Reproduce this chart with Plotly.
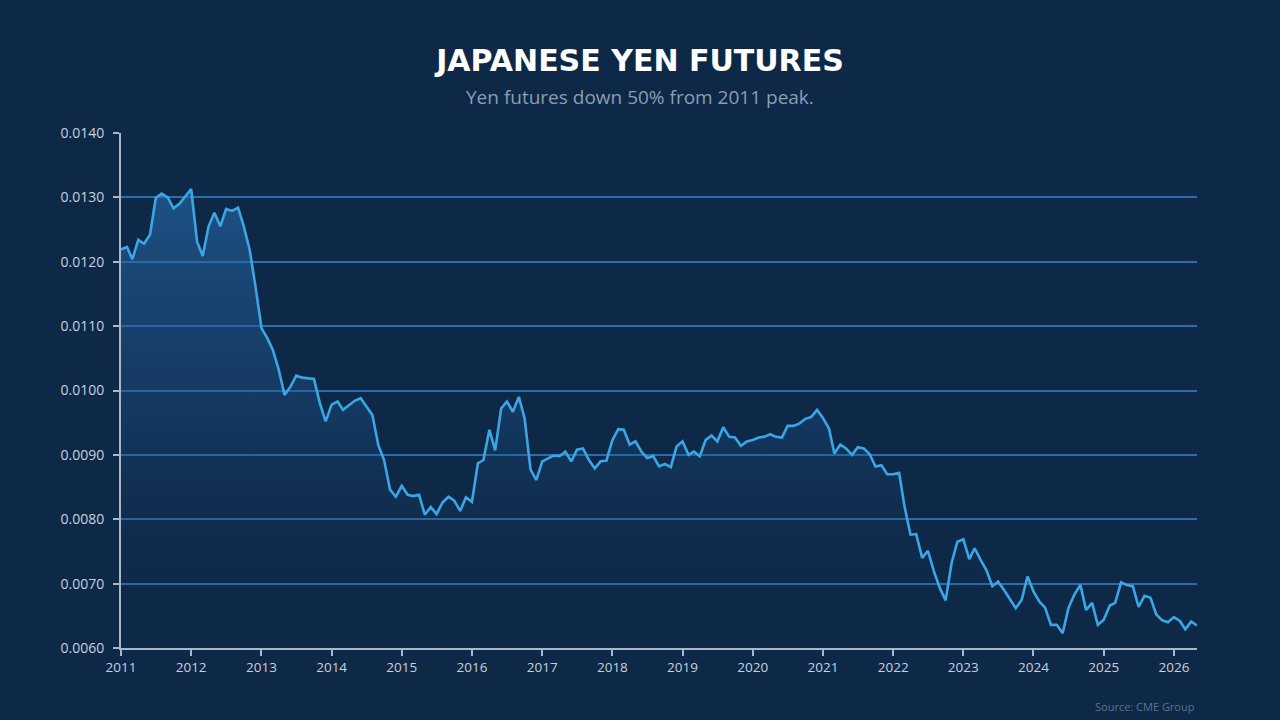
import pandas as pd
import plotly.graph_objects as go

# ── Colours ──────────────────────────────────────────────────
COLORS = {
    "bg":      "#0e2847",
    "line":    "#3ba6e6",
    "grid":    "#2b6eab",
    "axis":    "#a9b6c6",
    "tick":    "#c9d1dc",
    "title":   "#ffffff",
    "sub":     "#8c9db3",
    "source":  "#5d7290",
}

# ── Data: monthly settle, JPY futures (USD per yen) ──────────
yen_2011 = [0.01219, 0.01223, 0.01204, 0.01234, 0.01228, 0.01242,
            0.01299, 0.01306, 0.01300, 0.01283, 0.01290, 0.01301]
yen_2012 = [0.01313, 0.01231, 0.01209, 0.01255, 0.01276, 0.01255,
            0.01282, 0.01279, 0.01284, 0.01255, 0.01218, 0.01161]
yen_2013 = [0.01097, 0.01081, 0.01063, 0.01032, 0.00993, 0.01006,
            0.01023, 0.01020, 0.01019, 0.01018, 0.00980, 0.00952]
yen_2014 = [0.00978, 0.00983, 0.00970, 0.00977, 0.00984, 0.00988,
            0.00975, 0.00962, 0.00915, 0.00892, 0.00846, 0.00835]
yen_2015 = [0.00852, 0.00838, 0.00836, 0.00838, 0.00807, 0.00819,
            0.00808, 0.00826, 0.00835, 0.00829, 0.00813, 0.00834]
yen_2016 = [0.00827, 0.00887, 0.00892, 0.00939, 0.00907, 0.00972,
            0.00983, 0.00967, 0.00990, 0.00957, 0.00877, 0.00861]
yen_2017 = [0.00890, 0.00895, 0.00899, 0.00898, 0.00905, 0.00890,
            0.00908, 0.00910, 0.00892, 0.00879, 0.00890, 0.00891]
yen_2018 = [0.00923, 0.00940, 0.00939, 0.00916, 0.00921, 0.00905,
            0.00895, 0.00898, 0.00882, 0.00886, 0.00881, 0.00913]
yen_2019 = [0.00921, 0.00900, 0.00905, 0.00898, 0.00923, 0.00930,
            0.00921, 0.00943, 0.00928, 0.00927, 0.00914, 0.00921]
yen_2020 = [0.00923, 0.00927, 0.00928, 0.00932, 0.00928, 0.00927,
            0.00945, 0.00945, 0.00949, 0.00956, 0.00959, 0.00970]
yen_2021 = [0.00957, 0.00941, 0.00902, 0.00916, 0.00910, 0.00900,
            0.00912, 0.00910, 0.00901, 0.00882, 0.00884, 0.00870]
yen_2022 = [0.00870, 0.00872, 0.00820, 0.00776, 0.00777, 0.00740,
            0.00751, 0.00719, 0.00693, 0.00674, 0.00732, 0.00765]
yen_2023 = [0.00769, 0.00738, 0.00755, 0.00737, 0.00721, 0.00696,
            0.00703, 0.00690, 0.00675, 0.00662, 0.00675, 0.00711]
yen_2024 = [0.00688, 0.00672, 0.00663, 0.00636, 0.00636, 0.00623,
            0.00662, 0.00683, 0.00698, 0.00659, 0.00670, 0.00636]
yen_2025 = [0.00644, 0.00666, 0.00670, 0.00702, 0.00698, 0.00696,
            0.00664, 0.00681, 0.00678, 0.00652, 0.00643, 0.00640]
yen_2026 = [0.00648, 0.00642, 0.00629, 0.00641, 0.00635]

values = (yen_2011 + yen_2012 + yen_2013 + yen_2014 + yen_2015 + yen_2016
          + yen_2017 + yen_2018 + yen_2019 + yen_2020 + yen_2021 + yen_2022
          + yen_2023 + yen_2024 + yen_2025 + yen_2026)
dates = pd.date_range("2011-01-01", periods=len(values), freq="MS")

y_ticks = [0.0060, 0.0070, 0.0080, 0.0090, 0.0100, 0.0110, 0.0120, 0.0130, 0.0140]

FONT = "Open Sans, sans-serif"
TITLE_FONT = "DejaVu Sans, sans-serif"

fig = go.Figure()

fig.add_trace(go.Scatter(
    x=dates,
    y=values,
    mode="lines",
    line=dict(color=COLORS["line"], width=2.6),
    fill="tozeroy",
    fillgradient=dict(
        type="vertical",
        start=0.0060,
        stop=0.0132,
        colorscale=[
            [0.0, "rgba(14,40,71,0)"],
            [0.5, "rgba(30,85,140,0.35)"],
            [1.0, "rgba(40,110,175,0.6)"],
        ],
    ),
    hoverinfo="x+y",
    showlegend=False,
))

fig.update_layout(
    width=1280,
    height=720,
    paper_bgcolor=COLORS["bg"],
    plot_bgcolor=COLORS["bg"],
    font=dict(family=FONT, color=COLORS["tick"]),
    margin=dict(l=121, r=83, t=133, b=72),
    title=dict(
        text="<b>JAPANESE YEN FUTURES</b>",
        x=0.5, xref="container", xanchor="center",
        y=1 - 60 / 720, yref="container", yanchor="middle",
        font=dict(size=30, color=COLORS["title"], family=TITLE_FONT),
    ),
    annotations=[
        dict(
            text="Yen futures down 50% from 2011 peak.",
            x=(640 - 121) / 1076, y=1 + 36 / 515,
            xref="paper", yref="paper",
            xanchor="center", yanchor="middle",
            showarrow=False,
            font=dict(size=19, color=COLORS["sub"]),
        ),
        dict(
            text="Source: CME Group",
            x=1, y=1 - (706 - 133) / 515,
            xref="paper", yref="paper",
            xanchor="right", yanchor="middle",
            showarrow=False,
            font=dict(size=11, color=COLORS["source"]),
        ),
    ],
    xaxis=dict(
        type="date",
        range=["2011-01-01", "2026-05-01"],
        dtick="M12",
        tick0="2011-01-01",
        tickformat="%Y",
        showgrid=False,
        showline=True,
        linecolor=COLORS["axis"],
        linewidth=2,
        ticks="outside",
        ticklen=6,
        tickwidth=2,
        tickcolor=COLORS["axis"],
        tickfont=dict(size=13.5, color=COLORS["tick"]),
        zeroline=False,
    ),
    yaxis=dict(
        range=[0.0060, 0.0140],
        tickvals=y_ticks,
        tickformat=".4f",
        showgrid=True,
        gridcolor=COLORS["grid"],
        gridwidth=2,
        showline=True,
        linecolor=COLORS["axis"],
        linewidth=2,
        ticks="outside",
        ticklen=6,
        tickwidth=2,
        tickcolor=COLORS["axis"],
        tickfont=dict(size=14, color=COLORS["tick"]),
        ticklabelstandoff=6,
        zeroline=False,
    ),
)

# page body has a default 8px margin; drop it so the figure fills the window
fig.write_html(
    "out.html",
    config={"displayModeBar": False},
    post_script="document.body.style.margin='0';",
)
